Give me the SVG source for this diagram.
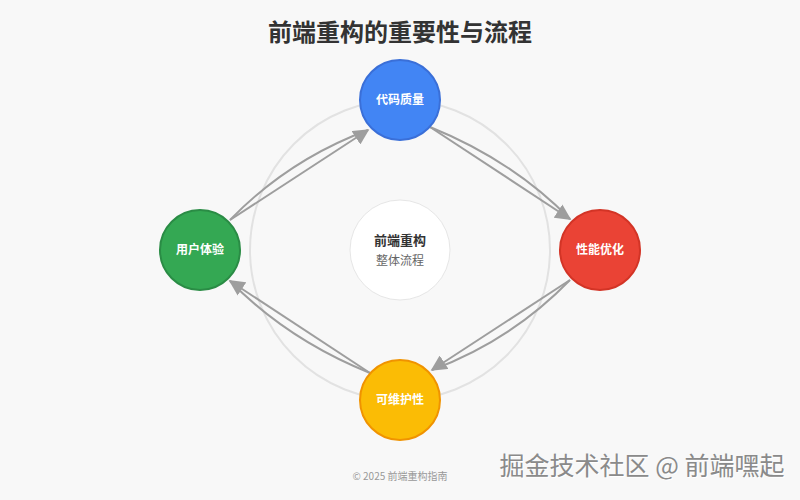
<svg xmlns="http://www.w3.org/2000/svg" width="800" height="500" viewBox="0 0 800 500">
<defs>
<marker id="ah" viewBox="0 0 10 10" refX="9" refY="5" markerWidth="8" markerHeight="8" orient="auto" markerUnits="strokeWidth">
<path d="M0,0 L10,5 L0,10 z" fill="#9e9e9e"/>
</marker>
<style>
.cjk{font-family:"Noto Sans CJK SC","Noto Sans",sans-serif;}
.node circle{stroke-width:2;}
.lbl{font-size:12px;font-weight:bold;fill:#ffffff;text-anchor:middle;}
.conn path{fill:none;stroke:#9e9e9e;stroke-width:2;}
</style>
</defs>
<rect width="800" height="500" fill="#f8f8f8"/>
<text class="cjk" x="400" y="41" font-size="24" font-weight="bold" fill="#333" text-anchor="middle">前端重构的重要性与流程</text>
<circle cx="400" cy="250" r="150" fill="none" stroke="#e2e2e2" stroke-width="2"/>
<g id="center">
<circle cx="400" cy="250" r="50" fill="#ffffff" stroke="#e6e6e6" stroke-width="1"/>
<text class="cjk" x="400" y="245" font-size="13" font-weight="bold" fill="#333" text-anchor="middle">前端重构</text>
<text class="cjk" x="400" y="265" font-size="12" fill="#666" text-anchor="middle">整体流程</text>
</g>
<g id="connectors" class="conn">
<path d="M430,127 L570,219" marker-end="url(#ah)"/>
<path d="M430,127 Q512,160 570,219"/>
<path d="M570,280 L432,370" marker-end="url(#ah)"/>
<path d="M570,280 Q512,340 432,370"/>
<path d="M370,373 L230,281" marker-end="url(#ah)"/>
<path d="M370,373 Q288,340 230,281"/>
<path d="M230,220 L368,130" marker-end="url(#ah)"/>
<path d="M230,220 Q288,160 368,130"/>
</g>
<g id="n-quality" class="node">
<circle cx="400" cy="100" r="40" fill="#4285f4" stroke="#3a6fd8"/>
<text class="cjk lbl" x="400" y="104">代码质量</text>
</g>
<g id="n-perf" class="node">
<circle cx="600" cy="250" r="40" fill="#ea4335" stroke="#d33426"/>
<text class="cjk lbl" x="600" y="254">性能优化</text>
</g>
<g id="n-maint" class="node">
<circle cx="400" cy="400" r="40" fill="#fbbc05" stroke="#f09300"/>
<text class="cjk lbl" x="400" y="404">可维护性</text>
</g>
<g id="n-ux" class="node">
<circle cx="200" cy="250" r="40" fill="#34a853" stroke="#2a8c45"/>
<text class="cjk lbl" x="200" y="254">用户体验</text>
</g>
<text class="cjk" x="400" y="480" font-size="10" fill="#999" text-anchor="middle">© 2025 前端重构指南</text>
<text class="cjk" x="643" y="476" font-size="25" fill="#ffffff" text-anchor="middle">掘金技术社区 @ 前端嘿起</text>
<text class="cjk" x="642" y="475" font-size="25" fill="#8a8a8a" text-anchor="middle">掘金技术社区 @ 前端嘿起</text>
</svg>
